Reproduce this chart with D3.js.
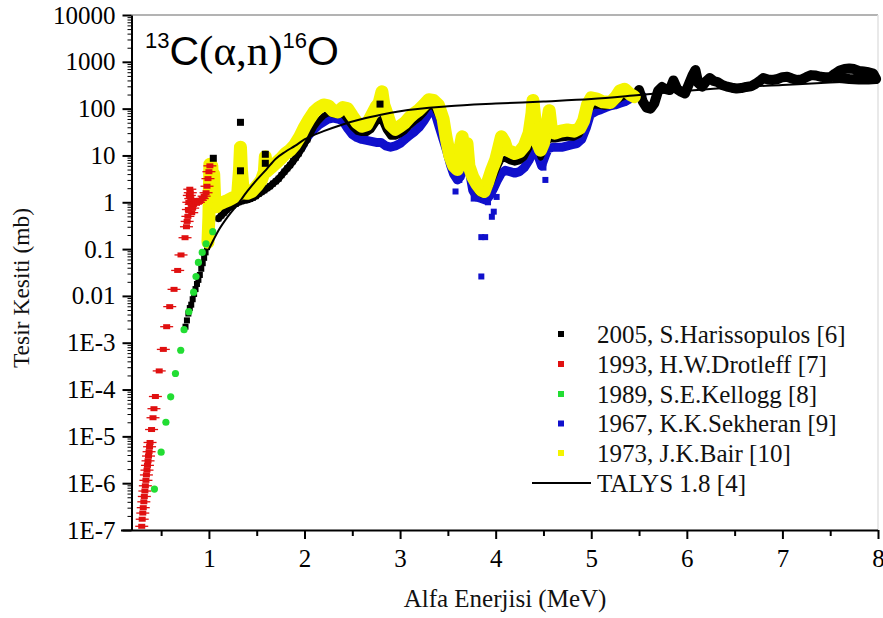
<!DOCTYPE html>
<html><head><meta charset="utf-8">
<script src="https://cdn.jsdelivr.net/npm/d3@7"></script>
<style>
body{margin:0;background:#fff}svg{display:block}
</style>
</head><body>
<svg id="c" width="883" height="618"></svg>
<script>
// ---------- data ----------
const yTickValues = [1e-7,1e-6,1e-5,1e-4,1e-3,0.01,0.1,1,10,100,1000,10000];
const yTickLabels = ["1E-7","1E-6","1E-5","1E-4","1E-3","0.01","0.1","1","10","100","1000","10000"];
const xTickValues = [1,2,3,4,5,6,7,8];
const xMinorTicks = [0.5,1.5,2.5,3.5,4.5,5.5,6.5,7.5];
const seriesNames = ["2005, S.Harissopulos [6]","1993, H.W.Drotleff [7]","1989, S.E.Kellogg [8]","1967, K.K.Sekheran [9]","1973, J.K.Bair [10]","TALYS 1.8 [4]"];
const seriesColors = ["#000000","#e01010","#22dd33","#1010cc","#f4f400","#000000"];

// 2005 Harissopulos (black)
const harisLow = [[0.755,0.0022],[0.77,0.003],[0.785,0.0042],[0.80,0.0055],[0.815,0.0065],[0.83,0.0085],[0.845,0.011],[0.86,0.014],[0.875,0.018],[0.89,0.022],[0.905,0.028],[0.92,0.038],[0.935,0.05],[0.95,0.065],[0.965,0.085],[0.98,0.11]];
const harisBand = [[1.10,0.45],[1.13,0.52],[1.16,0.6],[1.19,0.7],[1.22,0.78],[1.25,0.85],[1.28,0.92],[1.31,1.0],[1.34,1.05],[1.37,1.1],[1.40,1.12],[1.43,1.18],[1.46,1.25],[1.49,1.35],[1.52,1.5],[1.55,1.65],[1.58,1.8],[1.61,2.0],[1.64,2.2],[1.67,2.5],[1.70,2.8],[1.73,3.2],[1.76,3.8],[1.79,4.5],[1.82,5.3],[1.85,6.2],[1.88,7.5],[1.91,9],[1.94,11],[1.97,14],[2.0,18],[2.03,22]];
const harisMid = [[2.06,28],[2.1,40],[2.15,55],[2.2,70],[2.25,80],[2.3,75],[2.35,72],[2.4,75],[2.45,55],[2.5,40],[2.55,32],[2.6,30],[2.65,30],[2.7,35],[2.75,50],[2.8,60],[2.85,35],[2.9,25],[2.95,25],[3.0,28],[3.05,33],[3.1,42],[3.15,52],[3.2,62],[3.25,80],[3.3,110],[3.35,110],[3.4,70],[3.45,35],[3.5,14],[3.55,7],[3.6,4.5],[3.65,8],[3.7,11],[3.74,4],[3.78,2.2],[3.82,1.6],[3.86,1.45],[3.9,1.5],[3.94,2.2],[3.98,3.5],[4.02,5.5],[4.06,8],[4.1,8.5],[4.15,7.5],[4.2,7],[4.25,7.5],[4.3,9],[4.35,14],[4.39,25],[4.43,16],[4.47,9],[4.5,12],[4.54,20],[4.58,22],[4.62,22],[4.68,23],[4.75,24],[4.82,24],[4.88,28],[4.93,45],[4.97,90],[5.02,115],[5.08,115],[5.14,110],[5.2,115],[5.26,140],[5.32,170],[5.38,190],[5.44,210],[5.48,240]];
const harisHigh = [[5.5,250],[5.54,140],[5.58,105],[5.62,100],[5.66,130],[5.7,240],[5.74,290],[5.78,260],[5.82,250],[5.86,400],[5.9,260],[5.94,230],[5.98,210],[6.02,330],[6.06,520],[6.09,670],[6.12,350],[6.16,295],[6.2,380],[6.24,450],[6.28,390],[6.32,370],[6.37,320],[6.42,295],[6.47,280],[6.52,270],[6.57,275],[6.62,290],[6.67,300],[6.72,340],[6.77,400],[6.8,450],[6.85,420],[6.9,410],[6.95,430],[7.0,470],[7.05,480],[7.1,440],[7.15,410],[7.2,420],[7.25,470],[7.3,520],[7.35,510],[7.4,480],[7.45,470],[7.5,470],[7.55,560],[7.6,650],[7.65,700],[7.7,720],[7.75,700],[7.8,640],[7.85,620],[7.9,600],[7.95,560],[7.98,430],[7.9,420],[7.8,420],[7.7,430],[7.6,450],[7.55,460]];
const harisSpikes = [[1.046,8.7],[1.33,51],[1.33,4.7],[1.59,10.6],[1.59,6.8],[2.79,125]];

// 1993 Drotleff (red)
const drotleff = [[0.297,1.2e-7],[0.302,1.7e-7],[0.308,2.3e-7],[0.313,3.0e-7],[0.319,4.0e-7],[0.324,5.2e-7],[0.330,6.8e-7],[0.335,8.8e-7],[0.341,1.15e-6],[0.346,1.5e-6],[0.352,1.9e-6],[0.357,2.4e-6],[0.363,3.0e-6],[0.368,3.8e-6],[0.374,4.7e-6],[0.379,6.0e-6],[0.384,7.4e-6],[0.40,1.4e-5],[0.415,2.5e-5],[0.425,3.9e-5],[0.44,7.1e-5],[0.48,2.5e-4],[0.523,7.2e-4],[0.558,2.2e-3],[0.59,5.9e-3],[0.635,0.0138],[0.673,0.035],[0.708,0.075],[0.75,0.175],[0.765,0.3],[0.772,0.39],[0.78,0.5],[0.785,0.7],[0.79,1.0],[0.795,1.4],[0.80,1.9],[0.805,1.6],[0.81,1.2],[0.815,0.9],[0.82,0.6],[0.83,0.75],[0.84,0.9],[0.85,1.05],[0.87,0.95],[0.89,1.0],[0.91,1.1],[0.93,1.2],[0.95,1.35],[0.97,1.6],[0.98,2.2],[0.99,3.2],[1.0,4.5],[1.01,6.0]];

// 1989 Kellogg (green)
const kellogg = [[0.43,7.5e-7],[0.50,4.6e-6],[0.55,2.0e-5],[0.60,7.0e-5],[0.65,2.2e-4],[0.705,6.9e-4],[0.74,1.9e-3],[0.79,4.6e-3],[0.84,0.012],[0.865,0.026],[0.89,0.052],[0.93,0.085],[0.97,0.13],[1.04,0.235]];

// 1967 Sekharan (blue)
const sekharanBand = [[1.97,15],[2.0,20],[2.05,28],[2.1,36],[2.15,45],[2.2,52],[2.25,60],[2.3,63],[2.35,60],[2.4,55],[2.45,38],[2.5,28],[2.55,24],[2.6,22],[2.65,21],[2.7,20],[2.75,19],[2.8,19],[2.85,16],[2.9,15],[2.95,16],[3.0,18],[3.05,22],[3.1,27],[3.15,32],[3.2,40],[3.25,55],[3.3,80],[3.33,90],[3.37,75],[3.41,40],[3.45,22],[3.49,12],[3.53,6],[3.56,4],[3.6,3],[3.63,3.5],[3.66,6],[3.68,14],[3.7,8],[3.73,4],[3.76,1.8],[3.8,1.3],[3.85,1.2],[3.9,1.1],[3.94,1.4],[3.98,2],[4.02,3],[4.06,4.2],[4.1,4.8],[4.15,4.5],[4.2,4.2],[4.25,4.5],[4.3,5.5],[4.35,8],[4.39,12],[4.42,18],[4.45,9],[4.48,6],[4.52,10],[4.55,14],[4.6,15],[4.65,15],[4.7,15],[4.75,16],[4.8,17],[4.85,18],[4.9,22],[4.95,40],[4.99,75],[5.05,88],[5.1,95],[5.15,105],[5.2,115],[5.25,120],[5.3,130],[5.35,140],[5.4,160],[5.45,200],[5.5,210],[5.53,190]];
const sekharanIsolated = [[3.58,1.7],[3.62,3.0],[3.77,1.2],[3.85,0.18],[3.85,0.026],[3.89,0.18],[3.92,1.0],[3.96,0.49],[3.98,0.63],[4.01,1.3],[4.52,3.0],[4.5,5.5]];

// 1973 Bair (yellow)
const bairBand = [[0.99,0.14],[1.0,0.5],[1.005,2],[1.01,6.5],[1.02,3],[1.03,6],[1.04,2],[1.05,4],[1.06,1.2],[1.075,0.8],[1.1,0.9],[1.15,1.0],[1.2,1.1],[1.25,1.25],[1.3,1.4],[1.32,5],[1.33,15],[1.34,5],[1.36,1.6],[1.4,1.55],[1.45,1.7],[1.5,2.2],[1.55,3.0],[1.58,4.5],[1.59,9.4],[1.6,4.5],[1.65,5.5],[1.7,6.8],[1.75,8.5],[1.8,11],[1.85,13],[1.9,17],[1.95,25],[2.0,40],[2.05,60],[2.1,85],[2.15,105],[2.2,120],[2.25,115],[2.3,90],[2.35,85],[2.4,105],[2.45,100],[2.5,70],[2.55,50],[2.6,42],[2.65,45],[2.7,70],[2.75,110],[2.78,130],[2.81,230],[2.83,120],[2.87,70],[2.9,45],[2.95,36],[3.0,42],[3.05,50],[3.1,65],[3.15,80],[3.2,95],[3.25,120],[3.3,155],[3.35,150],[3.4,120],[3.45,60],[3.48,25],[3.52,10],[3.56,6],[3.6,5],[3.62,12],[3.65,25],[3.67,10],[3.7,18],[3.72,6],[3.76,3.5],[3.8,2.5],[3.85,1.8],[3.88,1.7],[3.92,2.8],[3.96,5],[4.0,8],[4.03,14],[4.06,25],[4.09,20],[4.12,13],[4.16,12],[4.2,11],[4.25,12],[4.3,16],[4.35,30],[4.38,80],[4.39,150],[4.41,60],[4.44,18],[4.47,13],[4.5,18],[4.53,35],[4.56,90],[4.58,40],[4.62,30],[4.68,33],[4.75,35],[4.82,33],[4.88,38],[4.92,55],[4.96,120],[5.0,170],[5.06,160],[5.12,140],[5.2,135],[5.26,180],[5.3,240],[5.35,260],[5.41,200],[5.45,180]];

// TALYS 1.8 (line)
const talys = [[1.0,0.1],[1.05,0.16],[1.1,0.25],[1.2,0.5],[1.3,0.9],[1.4,1.7],[1.5,3.0],[1.6,5.0],[1.7,8.5],[1.8,12],[1.9,16],[2.0,22],[2.2,33],[2.4,46],[2.6,60],[2.8,74],[3.0,88],[3.5,112],[4.0,128],[4.5,142],[5.0,160],[5.5,195],[6.0,240],[6.5,285],[7.0,320],[7.5,360],[8.0,400]];

// ---------- chart ----------
const x = d3.scaleLinear().domain([0.19, 8]).range([131.5, 878]);
const y = d3.scaleLog().domain([1e-7, 1e4]).range([530, 15]);
const svg = d3.select('#c');
const SERIF = '"Liberation Serif"';
const SANS = '"Liberation Sans"';
const FS = 25;

// frame (top / right)
svg.append('line').attr('x1', x(0.19)).attr('x2', 878).attr('y1', 15).attr('y2', 15).attr('stroke', '#9a9a9a').attr('stroke-width', 1.5);
svg.append('line').attr('x1', 878).attr('x2', 878).attr('y1', 15).attr('y2', 530).attr('stroke', '#e2e2e2').attr('stroke-width', 1.5);

const g = svg.append('g');
const line = d3.line().x(d => x(d[0])).y(d => y(d[1]));
function band(data, color, w) {
  g.append('path').datum(data).attr('d', line).attr('fill', 'none').attr('stroke', color)
    .attr('stroke-width', w).attr('stroke-linejoin', 'round').attr('stroke-linecap', 'round');
}
function squares(data, color, s) {
  g.append('g').selectAll('rect').data(data).join('rect')
    .attr('x', d => x(d[0]) - s / 2).attr('y', d => y(d[1]) - s / 2)
    .attr('width', s).attr('height', s).attr('fill', color);
}
function dots(data, color, r) {
  g.append('g').selectAll('circle').data(data).join('circle')
    .attr('cx', d => x(d[0])).attr('cy', d => y(d[1])).attr('r', r).attr('fill', color);
}

// blue
band(sekharanBand, seriesColors[3], 9);
squares(sekharanBand, seriesColors[3], 6);
squares(sekharanIsolated, seriesColors[3], 6);
// black
squares(harisLow, seriesColors[0], 6);
band(harisBand, seriesColors[0], 7);
squares(harisBand, seriesColors[0], 6);
band(harisMid, seriesColors[0], 6);
band(harisHigh, seriesColors[0], 10);
// yellow
band(bairBand, seriesColors[4], 13);
dots(bairBand, seriesColors[4], 5);
// black spikes on top
squares(harisSpikes, seriesColors[0], 7);
// red with horizontal error bars
g.append('g').selectAll('line').data(drotleff).join('line')
  .attr('x1', d => x(d[0]) - 6.5).attr('x2', d => x(d[0]) + 6.5)
  .attr('y1', d => y(d[1])).attr('y2', d => y(d[1]))
  .attr('stroke', seriesColors[1]).attr('stroke-width', 1.3);
g.append('g').selectAll('rect').data(drotleff).join('rect')
  .attr('x', d => x(d[0]) - 3.5).attr('y', d => y(d[1]) - 2.5)
  .attr('width', 7).attr('height', 5).attr('fill', seriesColors[1]);
// green
dots(kellogg, seriesColors[2], 3.6);
// TALYS
g.append('path').datum(talys).attr('d', d3.line().curve(d3.curveMonotoneX).x(d => x(d[0])).y(d => y(d[1])))
  .attr('fill', 'none').attr('stroke', '#000').attr('stroke-width', 2);

// axes
const minorY = [];
for (let k = -7; k < 4; k++) for (let m = 2; m <= 9; m++) minorY.push(m * Math.pow(10, k));
const yMinor = svg.append('g').attr('transform', 'translate(131.5,0)')
  .call(d3.axisLeft(y).tickValues(minorY).tickSize(4).tickFormat('').tickSizeOuter(0));
yMinor.select('.domain').remove();
yMinor.selectAll('line').attr('stroke-width', 1);
const yAx = svg.append('g').attr('transform', 'translate(131.5,0)')
  .call(d3.axisLeft(y).tickValues(yTickValues).tickFormat((d, i) => yTickLabels[i]).tickSize(9).tickPadding(7).tickSizeOuter(0));
yAx.select('.domain').attr('stroke-width', 2);
yAx.selectAll('line').attr('stroke-width', 2);
yAx.selectAll('text').style('font-family', SERIF).style('font-size', FS + 'px').attr('fill', '#000');

const xMinor = svg.append('g').attr('transform', 'translate(0,530)')
  .call(d3.axisBottom(x).tickValues(xMinorTicks).tickSize(6).tickFormat('').tickSizeOuter(0));
xMinor.select('.domain').remove();
xMinor.selectAll('line').attr('stroke-width', 2);
const xAx = svg.append('g').attr('transform', 'translate(0,530)')
  .call(d3.axisBottom(x).tickValues(xTickValues).tickSize(9).tickPadding(10).tickSizeOuter(0));
xAx.select('.domain').attr('stroke-width', 2).attr('d', 'M121,0.5H878');
xAx.selectAll('line').attr('stroke-width', 2);
xAx.selectAll('text').style('font-family', SERIF).style('font-size', FS + 'px').attr('fill', '#000');

// axis titles
svg.append('text').attr('x', 505).attr('y', 607).attr('text-anchor', 'middle')
  .style('font-family', SERIF).style('font-size', FS + 'px').attr('fill', '#111').text('Alfa Enerjisi (MeV)');
svg.append('text').attr('transform', 'translate(29,288) rotate(-90)').attr('text-anchor', 'middle')
  .style('font-family', SERIF).style('font-size', '23.5px').attr('fill', '#111').text('Tesir Kesiti (mb)');

// reaction label
const t = svg.append('text').attr('x', 145).attr('y', 65).attr('fill', '#000');
t.append('tspan').style('font-family', SANS).style('font-size', '22px').attr('dy', -17).text('13');
t.append('tspan').style('font-family', SANS).style('font-size', '41px').attr('dy', 17).text('C');
t.append('tspan').style('font-family', SERIF).style('font-size', '43px').text('(α,n)');
t.append('tspan').style('font-family', SANS).style('font-size', '22px').attr('dy', -17).text('16');
t.append('tspan').style('font-family', SANS).style('font-size', '41px').attr('dy', 17).text('O');

// legend
const lg = svg.append('g');
const rowY = [334, 364, 394, 423.5, 453, 483];
seriesNames.forEach((name, i) => {
  if (i < 5) {
    lg.append('rect').attr('x', 558).attr('y', rowY[i] - 3).attr('width', 6).attr('height', 6).attr('fill', seriesColors[i]);
  } else {
    lg.append('line').attr('x1', 532).attr('x2', 591).attr('y1', rowY[i]).attr('y2', rowY[i]).attr('stroke', '#000').attr('stroke-width', 2);
  }
  lg.append('text').attr('x', 597).attr('y', rowY[i] + 8.5)
    .style('font-family', SERIF).style('font-size', FS + 'px').attr('fill', '#111').text(name);
});
</script>
</body></html>
